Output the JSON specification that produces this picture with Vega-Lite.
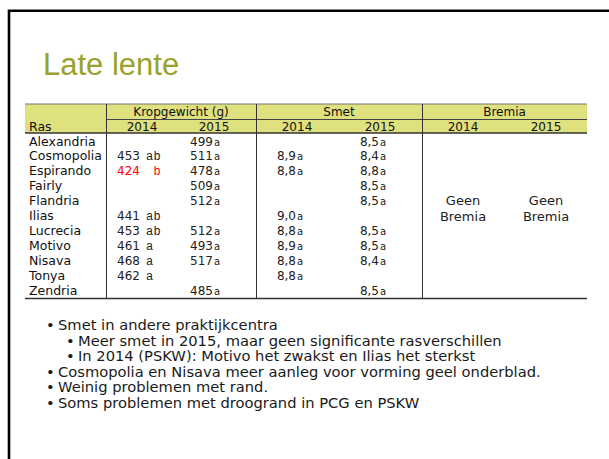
{
  "$schema": "https://vega.github.io/schema/vega-lite/v6.json",
  "width": 609,
  "height": 459,
  "padding": 0,
  "autosize": {"type": "none"},
  "background": "white",
  "config": {
    "view": {"stroke": null},
    "axis": {"disable": true},
    "legend": {"disable": true},
    "locale": {"number": {"decimal": ",", "thousands": ".", "grouping": [3], "currency": ["€", ""]}}
  },
  "datasets": {
    "rassen": [
      {"ras": "Alexandria", "kg2014": null, "kg2014_letters": null, "kg2015": 499, "kg2015_letters": "a", "smet2014": null, "smet2014_letters": null, "smet2015": 8.5, "smet2015_letters": "a"},
      {"ras": "Cosmopolia", "kg2014": 453, "kg2014_letters": "ab", "kg2015": 511, "kg2015_letters": "a", "smet2014": 8.9, "smet2014_letters": "a", "smet2015": 8.4, "smet2015_letters": "a"},
      {"ras": "Espirando", "kg2014": 424, "kg2014_letters": "b", "kg2015": 478, "kg2015_letters": "a", "smet2014": 8.8, "smet2014_letters": "a", "smet2015": 8.8, "smet2015_letters": "a"},
      {"ras": "Fairly", "kg2014": null, "kg2014_letters": null, "kg2015": 509, "kg2015_letters": "a", "smet2014": null, "smet2014_letters": null, "smet2015": 8.5, "smet2015_letters": "a"},
      {"ras": "Flandria", "kg2014": null, "kg2014_letters": null, "kg2015": 512, "kg2015_letters": "a", "smet2014": null, "smet2014_letters": null, "smet2015": 8.5, "smet2015_letters": "a"},
      {"ras": "Ilias", "kg2014": 441, "kg2014_letters": "ab", "kg2015": null, "kg2015_letters": null, "smet2014": 9.0, "smet2014_letters": "a", "smet2015": null, "smet2015_letters": null},
      {"ras": "Lucrecia", "kg2014": 453, "kg2014_letters": "ab", "kg2015": 512, "kg2015_letters": "a", "smet2014": 8.8, "smet2014_letters": "a", "smet2015": 8.5, "smet2015_letters": "a"},
      {"ras": "Motivo", "kg2014": 461, "kg2014_letters": "a", "kg2015": 493, "kg2015_letters": "a", "smet2014": 8.9, "smet2014_letters": "a", "smet2015": 8.5, "smet2015_letters": "a"},
      {"ras": "Nisava", "kg2014": 468, "kg2014_letters": "a", "kg2015": 517, "kg2015_letters": "a", "smet2014": 8.8, "smet2014_letters": "a", "smet2015": 8.4, "smet2015_letters": "a"},
      {"ras": "Tonya", "kg2014": 462, "kg2014_letters": "a", "kg2015": null, "kg2015_letters": null, "smet2014": 8.8, "smet2014_letters": "a", "smet2015": null, "smet2015_letters": null},
      {"ras": "Zendria", "kg2014": null, "kg2014_letters": null, "kg2015": 485, "kg2015_letters": "a", "smet2014": null, "smet2014_letters": null, "smet2015": 8.5, "smet2015_letters": "a"}
    ],
    "punten": [
      {"tekst": "Smet in andere praktijkcentra", "niveau": 1},
      {"tekst": "Meer smet in 2015, maar geen significante rasverschillen", "niveau": 2},
      {"tekst": "In 2014 (PSKW): Motivo het zwakst en Ilias het sterkst", "niveau": 2},
      {"tekst": "Cosmopolia en Nisava meer aanleg voor vorming geel onderblad.", "niveau": 1},
      {"tekst": "Weinig problemen met rand.", "niveau": 1},
      {"tekst": "Soms problemen met droogrand in PCG en PSKW", "niveau": 1}
    ]
  },
  "layer": [
    {
      "data": {"values": [{}]},
      "layer": [
        {
          "mark": {"type": "rect", "fillOpacity": 0, "stroke": "#000000", "strokeWidth": 2.6},
          "encoding": {
            "x": {"datum": 9, "type": "quantitative", "scale": {"domain": [0, 609], "nice": false, "zero": false}},
            "x2": {"datum": 700},
            "y": {"datum": 10.8, "type": "quantitative", "scale": {"domain": [0, 459], "nice": false, "zero": false, "reverse": true}},
            "y2": {"datum": 600}
          }
        },
        {
          "mark": {"type": "rect", "fill": "#dfe07e"},
          "encoding": {
            "x": {"datum": 25, "type": "quantitative", "scale": {"domain": [0, 609], "nice": false, "zero": false}},
            "x2": {"datum": 587},
            "y": {"datum": 104, "type": "quantitative", "scale": {"domain": [0, 459], "nice": false, "zero": false, "reverse": true}},
            "y2": {"datum": 133}
          }
        },
        {
          "mark": {"type": "rule", "color": "#777777", "strokeWidth": 1},
          "encoding": {
            "x": {"datum": 25, "type": "quantitative", "scale": {"domain": [0, 609], "nice": false, "zero": false}},
            "x2": {"datum": 587},
            "y": {"datum": 104, "type": "quantitative", "scale": {"domain": [0, 459], "nice": false, "zero": false, "reverse": true}},
            "y2": {"datum": 104}
          }
        },
        {
          "mark": {"type": "rule", "color": "#444444", "strokeWidth": 1},
          "encoding": {
            "x": {"datum": 106.5, "type": "quantitative", "scale": {"domain": [0, 609], "nice": false, "zero": false}},
            "x2": {"datum": 587},
            "y": {"datum": 119.5, "type": "quantitative", "scale": {"domain": [0, 459], "nice": false, "zero": false, "reverse": true}},
            "y2": {"datum": 119.5}
          }
        },
        {
          "mark": {"type": "rule", "color": "#333333", "strokeWidth": 1.4},
          "encoding": {
            "x": {"datum": 25, "type": "quantitative", "scale": {"domain": [0, 609], "nice": false, "zero": false}},
            "x2": {"datum": 587},
            "y": {"datum": 133, "type": "quantitative", "scale": {"domain": [0, 459], "nice": false, "zero": false, "reverse": true}},
            "y2": {"datum": 133}
          }
        },
        {
          "mark": {"type": "rule", "color": "#333333", "strokeWidth": 1.4},
          "encoding": {
            "x": {"datum": 25, "type": "quantitative", "scale": {"domain": [0, 609], "nice": false, "zero": false}},
            "x2": {"datum": 587},
            "y": {"datum": 298.5, "type": "quantitative", "scale": {"domain": [0, 459], "nice": false, "zero": false, "reverse": true}},
            "y2": {"datum": 298.5}
          }
        },
        {
          "mark": {"type": "rule", "color": "#333333", "strokeWidth": 1},
          "encoding": {
            "x": {"datum": 106.5, "type": "quantitative", "scale": {"domain": [0, 609], "nice": false, "zero": false}},
            "x2": {"datum": 106.5},
            "y": {"datum": 104, "type": "quantitative", "scale": {"domain": [0, 459], "nice": false, "zero": false, "reverse": true}},
            "y2": {"datum": 298.5}
          }
        },
        {
          "mark": {"type": "rule", "color": "#333333", "strokeWidth": 1},
          "encoding": {
            "x": {"datum": 256.5, "type": "quantitative", "scale": {"domain": [0, 609], "nice": false, "zero": false}},
            "x2": {"datum": 256.5},
            "y": {"datum": 104, "type": "quantitative", "scale": {"domain": [0, 459], "nice": false, "zero": false, "reverse": true}},
            "y2": {"datum": 298.5}
          }
        },
        {
          "mark": {"type": "rule", "color": "#333333", "strokeWidth": 1},
          "encoding": {
            "x": {"datum": 422.5, "type": "quantitative", "scale": {"domain": [0, 609], "nice": false, "zero": false}},
            "x2": {"datum": 422.5},
            "y": {"datum": 104, "type": "quantitative", "scale": {"domain": [0, 459], "nice": false, "zero": false, "reverse": true}},
            "y2": {"datum": 298.5}
          }
        },
        {
          "mark": {"type": "text", "align": "left", "baseline": "alphabetic", "font": "Liberation Sans", "fontSize": 31, "color": "#99a22a"},
          "encoding": {
            "x": {"datum": 43, "type": "quantitative", "scale": {"domain": [0, 609], "nice": false, "zero": false}},
            "y": {"datum": 75, "type": "quantitative", "scale": {"domain": [0, 459], "nice": false, "zero": false, "reverse": true}},
            "text": {"value": "Late lente"}
          }
        },
        {
          "mark": {"type": "text", "align": "center", "baseline": "middle", "font": "DejaVu Sans", "fontSize": 12, "color": "#111111"},
          "encoding": {
            "x": {"datum": 181, "type": "quantitative", "scale": {"domain": [0, 609], "nice": false, "zero": false}},
            "y": {"datum": 112, "type": "quantitative", "scale": {"domain": [0, 459], "nice": false, "zero": false, "reverse": true}},
            "text": {"value": "Kropgewicht (g)"}
          }
        },
        {
          "mark": {"type": "text", "align": "center", "baseline": "middle", "font": "DejaVu Sans", "fontSize": 12, "color": "#111111"},
          "encoding": {
            "x": {"datum": 339, "type": "quantitative", "scale": {"domain": [0, 609], "nice": false, "zero": false}},
            "y": {"datum": 112, "type": "quantitative", "scale": {"domain": [0, 459], "nice": false, "zero": false, "reverse": true}},
            "text": {"value": "Smet"}
          }
        },
        {
          "mark": {"type": "text", "align": "center", "baseline": "middle", "font": "DejaVu Sans", "fontSize": 12, "color": "#111111"},
          "encoding": {
            "x": {"datum": 504.5, "type": "quantitative", "scale": {"domain": [0, 609], "nice": false, "zero": false}},
            "y": {"datum": 112, "type": "quantitative", "scale": {"domain": [0, 459], "nice": false, "zero": false, "reverse": true}},
            "text": {"value": "Bremia"}
          }
        },
        {
          "mark": {"type": "text", "align": "left", "baseline": "middle", "font": "DejaVu Sans", "fontSize": 12.5, "color": "#111111"},
          "encoding": {
            "x": {"datum": 29, "type": "quantitative", "scale": {"domain": [0, 609], "nice": false, "zero": false}},
            "y": {"datum": 127, "type": "quantitative", "scale": {"domain": [0, 459], "nice": false, "zero": false, "reverse": true}},
            "text": {"value": "Ras"}
          }
        },
        {
          "mark": {"type": "text", "align": "center", "baseline": "middle", "font": "DejaVu Sans", "fontSize": 12, "color": "#111111"},
          "encoding": {
            "x": {"datum": 142, "type": "quantitative", "scale": {"domain": [0, 609], "nice": false, "zero": false}},
            "y": {"datum": 127, "type": "quantitative", "scale": {"domain": [0, 459], "nice": false, "zero": false, "reverse": true}},
            "text": {"value": "2014"}
          }
        },
        {
          "mark": {"type": "text", "align": "center", "baseline": "middle", "font": "DejaVu Sans", "fontSize": 12, "color": "#111111"},
          "encoding": {
            "x": {"datum": 214, "type": "quantitative", "scale": {"domain": [0, 609], "nice": false, "zero": false}},
            "y": {"datum": 127, "type": "quantitative", "scale": {"domain": [0, 459], "nice": false, "zero": false, "reverse": true}},
            "text": {"value": "2015"}
          }
        },
        {
          "mark": {"type": "text", "align": "center", "baseline": "middle", "font": "DejaVu Sans", "fontSize": 12, "color": "#111111"},
          "encoding": {
            "x": {"datum": 297, "type": "quantitative", "scale": {"domain": [0, 609], "nice": false, "zero": false}},
            "y": {"datum": 127, "type": "quantitative", "scale": {"domain": [0, 459], "nice": false, "zero": false, "reverse": true}},
            "text": {"value": "2014"}
          }
        },
        {
          "mark": {"type": "text", "align": "center", "baseline": "middle", "font": "DejaVu Sans", "fontSize": 12, "color": "#111111"},
          "encoding": {
            "x": {"datum": 380, "type": "quantitative", "scale": {"domain": [0, 609], "nice": false, "zero": false}},
            "y": {"datum": 127, "type": "quantitative", "scale": {"domain": [0, 459], "nice": false, "zero": false, "reverse": true}},
            "text": {"value": "2015"}
          }
        },
        {
          "mark": {"type": "text", "align": "center", "baseline": "middle", "font": "DejaVu Sans", "fontSize": 12, "color": "#111111"},
          "encoding": {
            "x": {"datum": 463, "type": "quantitative", "scale": {"domain": [0, 609], "nice": false, "zero": false}},
            "y": {"datum": 127, "type": "quantitative", "scale": {"domain": [0, 459], "nice": false, "zero": false, "reverse": true}},
            "text": {"value": "2014"}
          }
        },
        {
          "mark": {"type": "text", "align": "center", "baseline": "middle", "font": "DejaVu Sans", "fontSize": 12, "color": "#111111"},
          "encoding": {
            "x": {"datum": 546, "type": "quantitative", "scale": {"domain": [0, 609], "nice": false, "zero": false}},
            "y": {"datum": 127, "type": "quantitative", "scale": {"domain": [0, 459], "nice": false, "zero": false, "reverse": true}},
            "text": {"value": "2015"}
          }
        },
        {
          "mark": {"type": "text", "align": "center", "baseline": "middle", "font": "DejaVu Sans", "fontSize": 13, "lineHeight": 16, "color": "#222222"},
          "encoding": {
            "x": {"datum": 463, "type": "quantitative", "scale": {"domain": [0, 609], "nice": false, "zero": false}},
            "y": {"datum": 201, "type": "quantitative", "scale": {"domain": [0, 459], "nice": false, "zero": false, "reverse": true}},
            "text": {"value": ["Geen", "Bremia"]}
          }
        },
        {
          "mark": {"type": "text", "align": "center", "baseline": "middle", "font": "DejaVu Sans", "fontSize": 13, "lineHeight": 16, "color": "#222222"},
          "encoding": {
            "x": {"datum": 546, "type": "quantitative", "scale": {"domain": [0, 609], "nice": false, "zero": false}},
            "y": {"datum": 201, "type": "quantitative", "scale": {"domain": [0, 459], "nice": false, "zero": false, "reverse": true}},
            "text": {"value": ["Geen", "Bremia"]}
          }
        }
      ]
    },
    {
      "data": {"name": "rassen"},
      "encoding": {
        "y": {"field": "ras", "type": "nominal", "sort": null, "scale": {"type": "point", "domain": ["Alexandria", "Cosmopolia", "Espirando", "Fairly", "Flandria", "Ilias", "Lucrecia", "Motivo", "Nisava", "Tonya", "Zendria"], "range": [141.5, 290.5], "padding": 0}}
      },
      "layer": [
        {
          "mark": {"type": "text", "align": "left", "baseline": "middle", "font": "DejaVu Sans", "fontSize": 12.5, "color": "#111111"},
          "encoding": {
            "x": {"datum": 29, "type": "quantitative", "scale": {"domain": [0, 609], "nice": false, "zero": false}},
            "text": {"field": "ras", "type": "nominal"}
          }
        },
        {
          "transform": [{"filter": "isValid(datum.kg2014)"}],
          "mark": {"type": "text", "align": "left", "baseline": "middle", "font": "DejaVu Sans", "fontSize": 12},
          "encoding": {
            "x": {"datum": 117, "type": "quantitative", "scale": {"domain": [0, 609], "nice": false, "zero": false}},
            "text": {"field": "kg2014", "type": "quantitative", "format": "d"},
            "color": {"condition": {"test": "datum.ras === 'Espirando'", "value": "#ff0000"}, "value": "#222222"}
          }
        },
        {
          "transform": [{"filter": "isValid(datum.kg2014_letters) && indexof(datum.kg2014_letters, 'a') >= 0"}],
          "mark": {"type": "text", "align": "left", "baseline": "middle", "font": "Liberation Mono", "fontSize": 12},
          "encoding": {
            "x": {"datum": 146, "type": "quantitative", "scale": {"domain": [0, 609], "nice": false, "zero": false}},
            "text": {"value": "a"},
            "color": {"condition": {"test": "datum.ras === 'Espirando'", "value": "#ff0000"}, "value": "#222222"}
          }
        },
        {
          "transform": [{"filter": "isValid(datum.kg2014_letters) && indexof(datum.kg2014_letters, 'b') >= 0"}],
          "mark": {"type": "text", "align": "left", "baseline": "middle", "font": "Liberation Mono", "fontSize": 12},
          "encoding": {
            "x": {"datum": 153.5, "type": "quantitative", "scale": {"domain": [0, 609], "nice": false, "zero": false}},
            "text": {"value": "b"},
            "color": {"condition": {"test": "datum.ras === 'Espirando'", "value": "#ff0000"}, "value": "#222222"}
          }
        },
        {
          "transform": [{"filter": "isValid(datum.kg2015)"}],
          "mark": {"type": "text", "align": "right", "baseline": "middle", "font": "DejaVu Sans", "fontSize": 12, "color": "#222222"},
          "encoding": {
            "x": {"datum": 213, "type": "quantitative", "scale": {"domain": [0, 609], "nice": false, "zero": false}},
            "text": {"field": "kg2015", "type": "quantitative", "format": "d"}
          }
        },
        {
          "transform": [{"filter": "isValid(datum.kg2015_letters)"}],
          "mark": {"type": "text", "align": "left", "baseline": "middle", "dy": 1, "font": "DejaVu Sans", "fontSize": 10, "color": "#222222"},
          "encoding": {
            "x": {"datum": 214, "type": "quantitative", "scale": {"domain": [0, 609], "nice": false, "zero": false}},
            "text": {"field": "kg2015_letters", "type": "nominal"}
          }
        },
        {
          "transform": [{"filter": "isValid(datum.smet2014)"}],
          "mark": {"type": "text", "align": "right", "baseline": "middle", "font": "DejaVu Sans", "fontSize": 12, "color": "#222222"},
          "encoding": {
            "x": {"datum": 296, "type": "quantitative", "scale": {"domain": [0, 609], "nice": false, "zero": false}},
            "text": {"field": "smet2014", "type": "quantitative", "format": ".1f"}
          }
        },
        {
          "transform": [{"filter": "isValid(datum.smet2014_letters)"}],
          "mark": {"type": "text", "align": "left", "baseline": "middle", "dy": 1, "font": "DejaVu Sans", "fontSize": 10, "color": "#222222"},
          "encoding": {
            "x": {"datum": 297, "type": "quantitative", "scale": {"domain": [0, 609], "nice": false, "zero": false}},
            "text": {"field": "smet2014_letters", "type": "nominal"}
          }
        },
        {
          "transform": [{"filter": "isValid(datum.smet2015)"}],
          "mark": {"type": "text", "align": "right", "baseline": "middle", "font": "DejaVu Sans", "fontSize": 12, "color": "#222222"},
          "encoding": {
            "x": {"datum": 379, "type": "quantitative", "scale": {"domain": [0, 609], "nice": false, "zero": false}},
            "text": {"field": "smet2015", "type": "quantitative", "format": ".1f"}
          }
        },
        {
          "transform": [{"filter": "isValid(datum.smet2015_letters)"}],
          "mark": {"type": "text", "align": "left", "baseline": "middle", "dy": 1, "font": "DejaVu Sans", "fontSize": 10, "color": "#222222"},
          "encoding": {
            "x": {"datum": 380, "type": "quantitative", "scale": {"domain": [0, 609], "nice": false, "zero": false}},
            "text": {"field": "smet2015_letters", "type": "nominal"}
          }
        }
      ]
    },
    {
      "data": {"name": "punten"},
      "encoding": {
        "y": {"field": "tekst", "type": "nominal", "sort": null, "scale": {"type": "point", "domain": ["Smet in andere praktijkcentra", "Meer smet in 2015, maar geen significante rasverschillen", "In 2014 (PSKW): Motivo het zwakst en Ilias het sterkst", "Cosmopolia en Nisava meer aanleg voor vorming geel onderblad.", "Weinig problemen met rand.", "Soms problemen met droogrand in PCG en PSKW"], "range": [326, 404], "padding": 0}}
      },
      "layer": [
        {
          "transform": [{"filter": "datum.niveau === 1"}],
          "mark": {"type": "text", "align": "left", "baseline": "middle", "font": "DejaVu Sans", "fontSize": 14.7, "color": "#1a1a1a"},
          "encoding": {
            "x": {"datum": 46, "type": "quantitative", "scale": {"domain": [0, 609], "nice": false, "zero": false}},
            "text": {"value": "•"}
          }
        },
        {
          "transform": [{"filter": "datum.niveau === 1"}],
          "mark": {"type": "text", "align": "left", "baseline": "middle", "font": "DejaVu Sans", "fontSize": 14.7, "color": "#1a1a1a"},
          "encoding": {
            "x": {"datum": 58, "type": "quantitative", "scale": {"domain": [0, 609], "nice": false, "zero": false}},
            "text": {"field": "tekst", "type": "nominal"}
          }
        },
        {
          "transform": [{"filter": "datum.niveau === 2"}],
          "mark": {"type": "text", "align": "left", "baseline": "middle", "font": "DejaVu Sans", "fontSize": 14.7, "color": "#1a1a1a"},
          "encoding": {
            "x": {"datum": 66, "type": "quantitative", "scale": {"domain": [0, 609], "nice": false, "zero": false}},
            "text": {"value": "•"}
          }
        },
        {
          "transform": [{"filter": "datum.niveau === 2"}],
          "mark": {"type": "text", "align": "left", "baseline": "middle", "font": "DejaVu Sans", "fontSize": 14.7, "color": "#1a1a1a"},
          "encoding": {
            "x": {"datum": 78, "type": "quantitative", "scale": {"domain": [0, 609], "nice": false, "zero": false}},
            "text": {"field": "tekst", "type": "nominal"}
          }
        }
      ]
    }
  ],
  "resolve": {"scale": {"y": "independent"}}
}
